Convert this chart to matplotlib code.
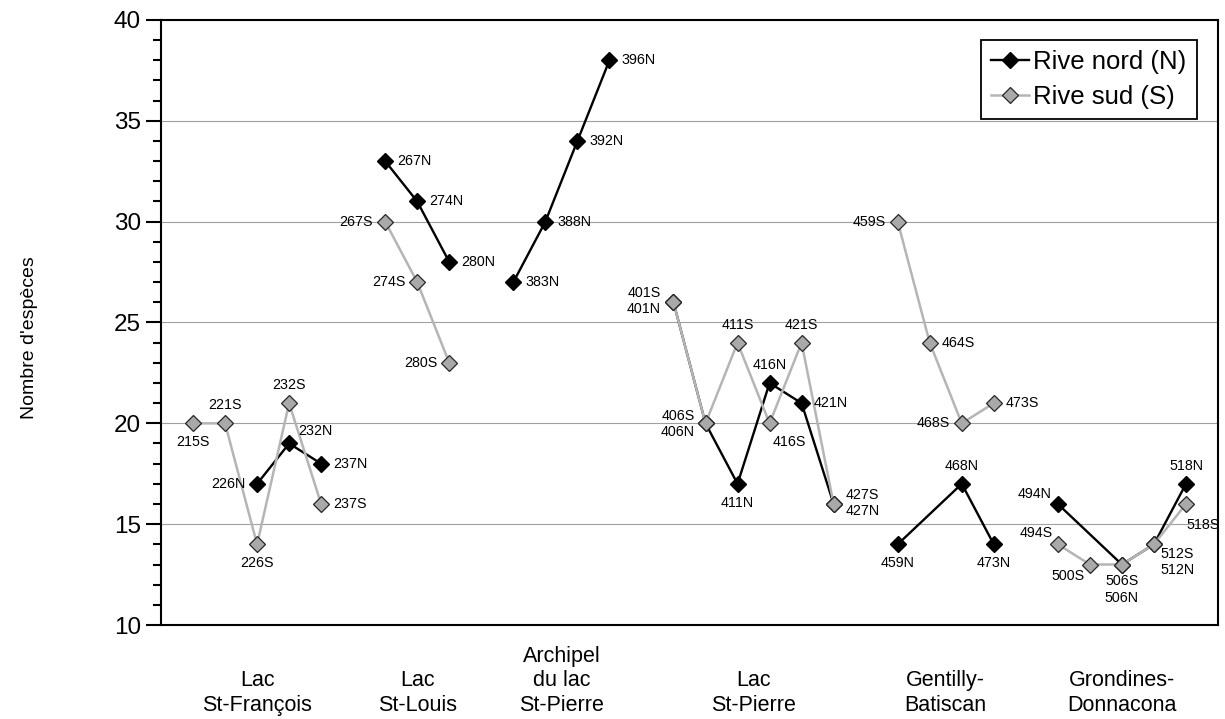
import matplotlib
matplotlib.use("Agg")
import matplotlib.pyplot as plt
from matplotlib import transforms
from matplotlib.ticker import MultipleLocator
from matplotlib.lines import Line2D

plt.rcParams['font.family'] = ['Liberation Sans', 'DejaVu Sans']

# ---- data -------------------------------------------------------------
sectors = ["Lac\nSt-François", "Lac\nSt-Louis", "Archipel\ndu lac\nSt-Pierre",
           "Lac\nSt-Pierre", "Gentilly-\nBatiscan", "Grondines-\nDonnacona"]
sector_stations = [
    [215, 221, 226, 232, 237],
    [267, 274, 280],
    [383, 388, 392, 396],
    [401, 406, 411, 416, 421, 427],
    [459, 464, 468, 473],
    [494, 500, 506, 512, 518],
]

north_km = [226, 232, 237, 267, 274, 280, 383, 388, 392, 396,
            401, 406, 411, 416, 421, 427, 459, 468, 473,
            494, 506, 512, 518]
north_species = [17, 19, 18, 33, 31, 28, 27, 30, 34, 38,
                 26, 20, 17, 22, 21, 16, 14, 17, 14,
                 16, 13, 14, 17]

south_km = [215, 221, 226, 232, 237, 267, 274, 280,
            401, 406, 411, 416, 421, 427, 459, 464, 468, 473,
            494, 500, 506, 512, 518]
south_species = [20, 20, 14, 21, 16, 30, 27, 23,
                 26, 20, 24, 20, 24, 16, 30, 24, 20, 21,
                 14, 13, 13, 14, 16]

# ---- x slots: consecutive stations, one empty slot between sectors ------
slot = {}
sector_center = []
pos = 0
for st in sector_stations:
    first = pos
    for km in st:
        slot[km] = pos
        pos += 1
    sector_center.append((first + pos - 1) / 2)
    pos += 1

# ---- label placement (pixel offsets: dx, dy downward, h-alignment) -----
R, L, A, B = (12, 0, 'left'), (-12, 0, 'right'), (0, -18, 'center'), (0, 19, 'center')
place_n = {226: L, 232: (9, -12, 'left'), 237: R, 267: R, 274: R, 280: R,
           383: R, 388: R, 392: R, 396: R, 411: B, 416: A, 421: R,
           459: B, 468: A, 473: B, 494: (-6, -10, 'right'), 518: A}
place_s = {215: B, 221: A, 226: B, 232: A, 237: R, 267: L, 274: L, 280: L,
           411: A, 416: (3, 19, 'left'), 421: A, 459: L, 464: R, 468: L, 473: R,
           494: (-5, -11, 'right'), 500: (-5, 12, 'right'), 518: (0, 21, 'left')}
place_both = {401: (-13, -1, 'right'), 406: (-11, 1, 'right'), 427: (12, -1, 'left'),
              506: (0, 25, 'center'), 512: (6, 18, 'left')}

# ---- figure ---------------------------------------------------------------
W, H = 1225, 719
fig = plt.figure(figsize=(W / 100, H / 100), dpi=100)
ax = fig.add_axes([161 / W, 1 - 625 / H, (1218 - 161) / W, (625 - 20) / H])

ax.set_xlim(-1, pos - 1)
ax.set_ylim(10, 40)
ax.yaxis.set_major_locator(MultipleLocator(5))
ax.yaxis.set_minor_locator(MultipleLocator(1))
ax.tick_params(axis='y', which='major', direction='out', length=10.5, width=1.5,
               labelsize=17.5, pad=4)
ax.tick_params(axis='y', which='minor', direction='out', length=6, width=1.5)
ax.set_xticks([])
for sp in ax.spines.values():
    sp.set_linewidth(1.5)
    sp.set_color('black')
ax.grid(axis='y', which='major', color='#a0a0a0', linewidth=0.8, zorder=0)
ax.set_axisbelow(True)

n_line = dict(color='black', lw=1.7, marker='D', ms=8.6, mfc='black',
              mec='black', mew=1.0)
s_line = dict(color='#b5b5b5', lw=1.8, marker='D', ms=8.6, mfc='#a9a9a9',
              mec='#262626', mew=0.9)

n_map = dict(zip(north_km, north_species))
s_map = dict(zip(south_km, south_species))

for st in sector_stations:
    kms = [k for k in st if k in n_map]
    if kms:
        ax.plot([slot[k] for k in kms], [n_map[k] for k in kms], zorder=3, **n_line)
for st in sector_stations:
    kms = [k for k in st if k in s_map]
    if kms:
        ax.plot([slot[k] for k in kms], [s_map[k] for k in kms], zorder=4, **s_line)

def put_label(km, val, text, spec):
    dx, dy, ha = spec
    ax.annotate(text, (slot[km], val), xytext=(dx, -dy), textcoords='offset pixels',
                ha=ha, va='center', fontsize=10.3, linespacing=1.2, zorder=6)

for km, v in n_map.items():
    if km in s_map and s_map[km] == v:
        continue
    put_label(km, v, f"{km}N", place_n[km])
for km, v in s_map.items():
    if km in n_map and n_map[km] == v:
        put_label(km, v, f"{km}S\n{km}N", place_both[km])
    else:
        put_label(km, v, f"{km}S", place_s[km])

# sector names under the axis
trans = transforms.blended_transform_factory(ax.transData, fig.transFigure)
for name, cx in zip(sectors, sector_center):
    fig.text(cx, 3 / H, name, transform=trans, ha='center', va='bottom',
             fontsize=15.5, linespacing=1.22, multialignment='center')

fig.text(30 / W, 1 - 338 / H, "Nombre d'espèces", rotation=90, ha='center',
         va='center', fontsize=14)

handles = [Line2D([], [], **n_line), Line2D([], [], **s_line)]
leg = ax.legend(handles, ["Rive nord (N)", "Rive sud (S)"], loc='upper right',
                bbox_to_anchor=(0.980, 0.967), borderaxespad=0, fontsize=18.5,
                handlelength=1.5, handletextpad=0.15, borderpad=0.4,
                labelspacing=0.4, fancybox=False, framealpha=1)
leg.get_frame().set_edgecolor('black')
leg.get_frame().set_linewidth(1.3)
leg.set_zorder(10)

fig.savefig("out.png", dpi=100)
